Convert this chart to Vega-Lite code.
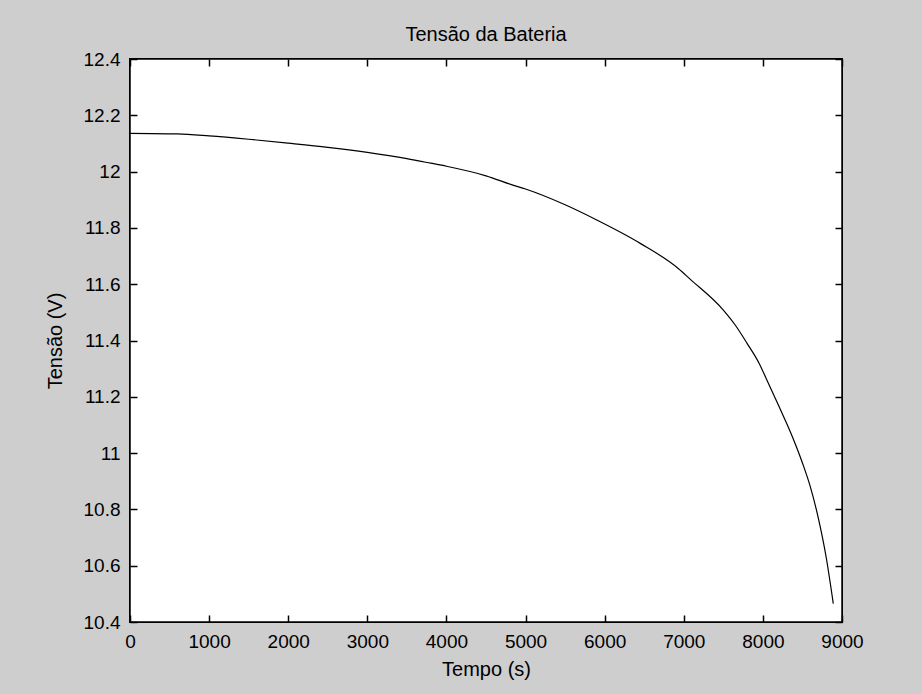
{
  "$schema": "https://vega.github.io/schema/vega-lite/v6.json",
  "width": 712,
  "height": 563,
  "autosize": "none",
  "padding": {"left": 130, "top": 59, "right": 80, "bottom": 72},
  "background": "#cecece",
  "title": {"text": "Tensão da Bateria", "font": "Liberation Sans", "fontSize": 20, "fontWeight": "normal", "color": "#000000", "offset": 5},
  "data": {"values": [
    {"t": 0, "v": 12.136},
    {"t": 600, "v": 12.134},
    {"t": 1000, "v": 12.127},
    {"t": 1500, "v": 12.115},
    {"t": 2000, "v": 12.101},
    {"t": 2500, "v": 12.086},
    {"t": 3000, "v": 12.068},
    {"t": 3500, "v": 12.046},
    {"t": 3800, "v": 12.030},
    {"t": 4000, "v": 12.019},
    {"t": 4500, "v": 11.985},
    {"t": 4840, "v": 11.952},
    {"t": 5000, "v": 11.938},
    {"t": 5500, "v": 11.882},
    {"t": 5900, "v": 11.828},
    {"t": 6450, "v": 11.745},
    {"t": 6930, "v": 11.656},
    {"t": 7080, "v": 11.618},
    {"t": 7500, "v": 11.508},
    {"t": 7650, "v": 11.455},
    {"t": 7800, "v": 11.39},
    {"t": 7950, "v": 11.32},
    {"t": 8050, "v": 11.26},
    {"t": 8200, "v": 11.168},
    {"t": 8370, "v": 11.06},
    {"t": 8500, "v": 10.965},
    {"t": 8600, "v": 10.88},
    {"t": 8700, "v": 10.77},
    {"t": 8800, "v": 10.63},
    {"t": 8890, "v": 10.465}
  ]},
  "layer": [
    {
      "mark": {"type": "rect", "color": "#ffffff", "stroke": "#000000", "strokeWidth": 1.5},
      "encoding": {
        "x": {"datum": 0, "type": "quantitative", "axis": null},
        "x2": {"datum": 9000},
        "y": {"datum": 10.4, "type": "quantitative", "axis": null},
        "y2": {"datum": 12.4}
      }
    },
    {
      "mark": {"type": "line", "color": "#000000", "strokeWidth": 1.2, "interpolate": "monotone"},
      "encoding": {
        "x": {"field": "t", "type": "quantitative", "scale": {"domain": [0, 9000], "nice": false, "zero": false},
              "axis": {"orient": "bottom", "title": "Tempo (s)", "format": "d", "values": [0,1000,2000,3000,4000,5000,6000,7000,8000,9000], "tickSize": -7, "zindex": 1, "domain": false, "labelPadding": 17, "titlePadding": 8}},
        "y": {"field": "v", "type": "quantitative", "scale": {"domain": [10.4, 12.4], "nice": false, "zero": false},
              "axis": {"orient": "left", "title": "Tensão (V)", "format": "~g", "values": [10.4,10.6,10.8,11,11.2,11.4,11.6,11.8,12,12.2,12.4], "tickSize": -7, "zindex": 1, "domain": false, "labelPadding": 17, "titlePadding": 18}}
      }
    },
    {
      "mark": {"type": "line", "strokeOpacity": 0},
      "encoding": {
        "x": {"field": "t", "type": "quantitative",
              "axis": {"orient": "top", "title": null, "labels": false, "values": [0,1000,2000,3000,4000,5000,6000,7000,8000,9000], "tickSize": -7, "zindex": 1, "domain": false}},
        "y": {"field": "v", "type": "quantitative",
              "axis": {"orient": "right", "title": null, "labels": false, "values": [10.4,10.6,10.8,11,11.2,11.4,11.6,11.8,12,12.2,12.4], "tickSize": -7, "zindex": 1, "domain": false}}
      }
    }
  ],
  "resolve": {"axis": {"x": "independent", "y": "independent"}},
  "config": {
    "view": {"fill": null, "stroke": null},
    "axis": {
      "grid": false,
      "domainColor": "#000000",
      "tickColor": "#000000",
      "tickWidth": 1.5,
      "labelColor": "#000000",
      "titleColor": "#000000",
      "labelFont": "Liberation Sans",
      "titleFont": "Liberation Sans",
      "labelFontSize": 19,
      "titleFontSize": 20,
      "titleFontWeight": "normal",
      "labelFlush": false,
      "labelOverlap": false
    }
  }
}
